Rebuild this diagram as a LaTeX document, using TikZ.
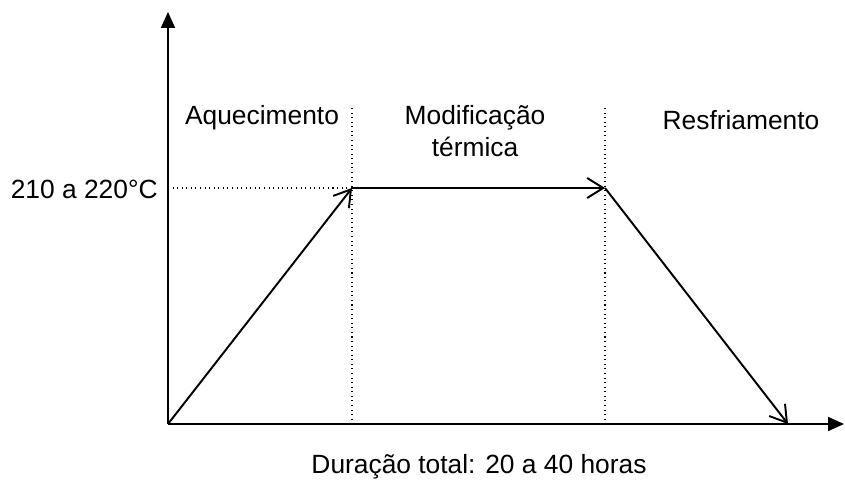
\documentclass[tikz,border=0pt]{standalone}
\usepackage{fontspec}
\setmainfont{Liberation Sans}
\usetikzlibrary{arrows.meta,positioning}
\tikzstyle{axis}=[line width=1.1pt,-{Triangle[length=3.2mm,width=2.8mm]}]
\tikzstyle{phase}=[line width=1.1pt,-{Straight Barb[length=3.2mm,width=4mm,line width=1.1pt]}]
\tikzstyle{guide}=[line width=0.6pt,dotted]
\tikzstyle{every node}+=[font=\fontsize{15}{18}\selectfont,inner sep=0pt]
\begin{document}
\begin{tikzpicture}
\useasboundingbox (0,0) rectangle (16.9,9.58);
\coordinate (o) at (3.36,1.10);
\coordinate (ytop) at (3.36,9.34);
\coordinate (xend) at (16.88,1.10);
\coordinate (p1) at (7.04,5.82);
\coordinate (p2) at (12.10,5.82);
\coordinate (p3) at (15.76,1.10);
\coordinate (t1) at (7.04,7.42);
\coordinate (t2) at (12.10,7.42);
\coordinate (b1) at (7.04,1.10);
\coordinate (b2) at (12.10,1.10);
\coordinate (ya) at (3.36,5.82);

\draw[guide] (ya) -- (p1);
\draw[guide] (t1) -- (b1);
\draw[guide] (t2) -- (b2);

\draw[axis] (o) -- (ytop);
\draw[axis] (o) -- (xend);

\draw[phase] (o) -- (p1);
\draw[phase] (p1) -- (p2);
\draw[phase] (p2) -- (p3);

\node[anchor=east] (temp) at (3.16,5.80) {210 a 220°C};
\node (heat) at (5.24,7.22) {Aquecimento};
\node[align=center] (mod) at (9.5,6.96) {Modificação\\térmica};
\node (cool) at (14.82,7.18) {Resfriamento};
\node (total) at (9.58,0.24) {Duração total: 20 a 40 horas};
\end{tikzpicture}
\end{document}
